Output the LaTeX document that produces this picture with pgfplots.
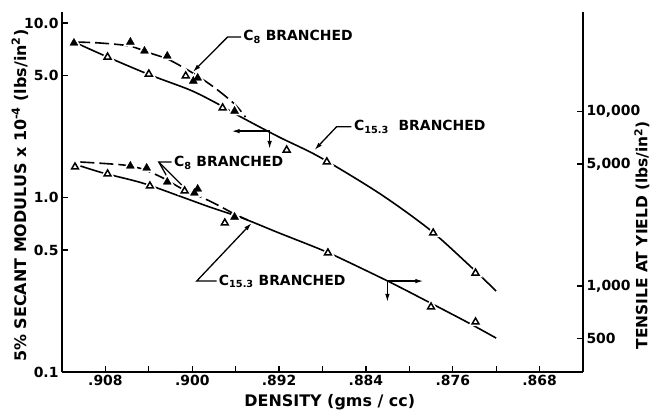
\documentclass[border=0pt]{standalone}
\usepackage{fontspec}
\setmainfont{DejaVu Sans}
\usepackage{pgfplots}
\pgfplotsset{compat=1.18}
\usetikzlibrary{arrows.meta}
\pgfplotsset{
  mycurve/.style={black, line width=1.6bp, smooth, tension=0.5, no markers},
  myceight/.style={mycurve, dash pattern=on 14bp off 5bp},
  myhalo/.style={only marks, mark=triangle*, mark size=5.5bp, mark options={draw=white, fill=white, line width=3bp}},
  myopen/.style={only marks, mark=triangle*, mark size=4bp, mark options={draw=black, fill=white, line width=1.5bp}},
  myfill/.style={only marks, mark=triangle*, mark size=4.6bp, mark options={draw=black, fill=black}},
}
\tikzset{
  myann/.style={black, line width=1.3bp},
  myarr/.style={myann, -{Latex[length=8bp,width=4.5bp]}},
  mytxt/.style={anchor=west, inner sep=1bp, font=\fontsize{14}{14}\selectfont\bfseries},
}
\begin{document}
\bfseries
\begin{tikzpicture}
\useasboundingbox (-62bp,-40bp) rectangle (591bp,372bp);
\begin{axis}[
  at={(0bp,0bp)}, anchor=south west,
  scale only axis, width=521bp, height=360bp,
  x dir=reverse, xmin=0.864, xmax=0.912,
  ymode=log, yminorticks=false,
  tick align=inside, major tick length=6bp,
  tick style={black, line width=1.2bp},
  axis line style={line width=1.6bp},
  tick label style={font=\fontsize{14}{14}\selectfont\bfseries},
  clip=false,
  ymin=0.1, ymax=11.56,
  axis x line*=bottom, axis y line*=left,
  xtick={0.908,0.904,0.900,0.896,0.892,0.888,0.884,0.880,0.876,0.872,0.868},
  xticklabels={.908,,.900,,.892,,.884,,.876,,.868},
  ytick={0.1,0.5,1,5,10}, yticklabels={0.1,0.5,1.0,5.0,10.0},
  xlabel={DENSITY (gms / cc)},
  xlabel style={at={(axis description cs:0.514,-0.085)}, anchor=center, font=\fontsize{16}{16}\selectfont\bfseries},
  ylabel={5\% SECANT MODULUS x 10\textsuperscript{-4} (lbs/in\textsuperscript{2})},
  ylabel style={at={(axis description cs:-0.0806,0.49)}, anchor=center, font=\fontsize{16}{16}\selectfont\bfseries},
]
% C15.3 branched, secant modulus
\addplot[mycurve] coordinates {(0.9105,7.59) (0.9078,6.38) (0.9039,5.04) (0.9002,4.13) (0.8978,3.48) (0.8955,2.89) (0.8920,2.22) (0.8883,1.71) (0.8828,1.06) (0.8782,0.660) (0.8745,0.410) (0.8720,0.291)};
% C8 branched, secant modulus
\addplot[myceight] coordinates {(0.9107,7.78) (0.9085,7.68) (0.9058,7.38) (0.9039,6.73) (0.9021,6.14) (0.8998,5.10) (0.8979,4.24) (0.8961,3.43) (0.8951,2.89)};
\addplot[myhalo] coordinates {(0.9109,7.68) (0.9057,7.78) (0.9044,6.91) (0.9023,6.47) (0.8999,4.65) (0.8995,4.84) (0.8961,3.13) (0.9078,6.38) (0.9040,5.10) (0.9006,4.97) (0.8972,3.26) (0.8913,1.87) (0.8876,1.60) (0.8778,0.626) (0.8739,0.369)};
\addplot[myopen] coordinates {(0.9078,6.38) (0.9040,5.10) (0.9006,4.97) (0.8972,3.26) (0.8913,1.87) (0.8876,1.60) (0.8778,0.626) (0.8739,0.369)};
\addplot[myfill] coordinates {(0.9109,7.68) (0.9057,7.78) (0.9044,6.91) (0.9023,6.47) (0.8999,4.65) (0.8995,4.84) (0.8961,3.13)};
% annotations
\draw[myarr] (axis cs:0.8955,8.31) -- (axis cs:0.89674,8.31) -- (axis cs:0.89995,5.24);
\node[mytxt] at (axis cs:0.8954,8.31) {C\textsubscript{8} BRANCHED};
\draw[myarr] (axis cs:0.88533,2.54) -- (axis cs:0.88671,2.54) -- (axis cs:0.88874,1.87);
\node[mytxt] at (axis cs:0.8852,2.54) {C\textsubscript{15.3}\ \ BRANCHED};
\draw[myarr] (axis cs:0.89287,2.40) -- (axis cs:0.89637,2.40);
\draw[myarr] (axis cs:0.89287,2.40) -- (axis cs:0.89287,1.897);
\draw[myarr] (axis cs:0.88202,0.332) -- (axis cs:0.87871,0.332);
\draw[myarr] (axis cs:0.88202,0.332) -- (axis cs:0.88202,0.252);
\node[mytxt] at (axis cs:0.90179,1.58) {C\textsubscript{8} BRANCHED};
\draw[myann] (axis cs:0.9019,1.597) -- (axis cs:0.90308,1.597) -- (axis cs:0.90225,1.294);
\draw[myann] (axis cs:0.90308,1.597) -- (axis cs:0.90097,1.179);
\node[mytxt] at (axis cs:0.89765,0.332) {C\textsubscript{15.3} BRANCHED};
\draw[myarr] (axis cs:0.89775,0.332) -- (axis cs:0.89959,0.332) -- (axis cs:0.89453,0.714);
\end{axis}
\begin{axis}[
  at={(0bp,0bp)}, anchor=south west,
  scale only axis, width=521bp, height=360bp,
  x dir=reverse, xmin=0.864, xmax=0.912,
  ymode=log, yminorticks=false,
  tick align=inside, major tick length=6bp,
  tick style={black, line width=1.2bp},
  axis line style={line width=1.6bp},
  tick label style={font=\fontsize{14}{14}\selectfont\bfseries},
  clip=false,
  ymin=321.5, ymax=37170,
  hide x axis, axis y line*=right,
  ytick={500,1000,5000,10000}, yticklabels={500,{1,000},{5,000},{10,000}},
  ylabel={TENSILE AT YIELD (lbs/in\textsuperscript{2})},
  ylabel style={at={(axis description cs:1.113,0.38)}, anchor=center, font=\fontsize{15.5}{15.5}\selectfont\bfseries},
]
% C8 branched, tensile
\addplot[myceight] coordinates {(0.9103,5135) (0.9064,4939) (0.9046,4682) (0.9027,4160) (0.9009,3598) (0.8984,3070) (0.8961,2585) (0.8949,2389)};
% C15.3 branched, tensile
\addplot[mycurve] coordinates {(0.9103,4871) (0.9082,4440) (0.9046,3893) (0.9012,3280) (0.8984,2836) (0.8954,2453) (0.8920,2013) (0.8885,1651) (0.8866,1466) (0.8820,1068) (0.8784,820) (0.8747,622) (0.8720,503)};
\addplot[myhalo] coordinates {(0.9108,4807) (0.9078,4385) (0.9039,3742) (0.9007,3505) (0.8970,2296) (0.8875,1546) (0.8780,758) (0.8739,622) (0.9057,4871) (0.9042,4745) (0.9023,3945) (0.8998,3411) (0.8995,3598) (0.8961,2485)};
\addplot[myopen] coordinates {(0.9108,4807) (0.9078,4385) (0.9039,3742) (0.9007,3505) (0.8970,2296) (0.8875,1546) (0.8780,758) (0.8739,622)};
\addplot[myfill] coordinates {(0.9057,4871) (0.9042,4745) (0.9023,3945) (0.8998,3411) (0.8995,3598) (0.8961,2485)};
\end{axis}
\end{tikzpicture}
\end{document}
